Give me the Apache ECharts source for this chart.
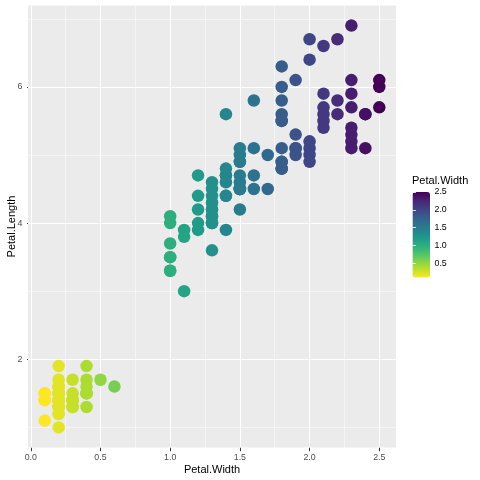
<!DOCTYPE html>
<html><head><meta charset="utf-8">
<script src="https://cdn.jsdelivr.net/npm/echarts@6/dist/echarts.min.js"></script>
<style>html,body{margin:0;padding:0;background:#fff}#c{width:480px;height:480px}</style>
</head><body><div id="c"></div>
<script>
const petalWidth = [0.2,0.2,0.2,0.2,0.2,0.4,0.3,0.2,0.2,0.1,0.2,0.2,0.1,0.1,0.2,0.4,0.4,0.3,0.3,0.3,0.2,0.4,0.2,0.5,0.2,0.2,0.4,0.2,0.2,0.2,0.2,0.4,0.1,0.2,0.2,0.2,0.2,0.1,0.2,0.2,0.3,0.3,0.2,0.6,0.4,0.3,0.2,0.2,0.2,0.2,
1.4,1.5,1.5,1.3,1.5,1.3,1.6,1.0,1.3,1.4,1.0,1.5,1.0,1.4,1.3,1.4,1.5,1.0,1.5,1.1,1.8,1.3,1.5,1.2,1.3,1.4,1.4,1.7,1.5,1.0,1.1,1.0,1.2,1.6,1.5,1.6,1.5,1.3,1.3,1.3,1.2,1.4,1.2,1.0,1.3,1.2,1.3,1.3,1.1,1.3,
2.5,1.9,2.1,1.8,2.2,2.1,1.7,1.8,1.8,2.5,2.0,1.9,2.1,2.0,2.4,2.3,1.8,2.2,2.3,1.5,2.3,2.0,2.0,1.8,2.1,1.8,1.8,1.8,2.1,1.6,1.9,2.0,2.2,1.5,1.4,2.3,2.4,1.8,1.8,2.1,2.4,2.3,1.9,2.3,2.5,2.3,1.9,2.0,2.3,1.8];
const petalLength = [1.4,1.4,1.3,1.5,1.4,1.7,1.4,1.5,1.4,1.5,1.5,1.6,1.4,1.1,1.2,1.5,1.3,1.4,1.7,1.5,1.7,1.5,1.0,1.7,1.9,1.6,1.6,1.5,1.4,1.6,1.6,1.5,1.5,1.4,1.5,1.2,1.3,1.4,1.3,1.5,1.3,1.3,1.3,1.6,1.9,1.4,1.6,1.4,1.5,1.4,
4.7,4.5,4.9,4.0,4.6,4.5,4.7,3.3,4.6,3.9,3.5,4.2,4.0,4.7,3.6,4.4,4.5,4.1,4.5,3.9,4.8,4.0,4.9,4.7,4.3,4.4,4.8,5.0,4.5,3.5,3.8,3.7,3.9,5.1,4.5,4.5,4.7,4.4,4.1,4.0,4.4,4.6,4.0,3.3,4.2,4.2,4.2,4.3,3.0,4.1,
6.0,5.1,5.9,5.6,5.8,6.6,4.5,6.3,5.8,6.1,5.1,5.3,5.5,5.0,5.1,5.3,5.5,6.7,6.9,5.0,5.7,4.9,6.7,4.9,5.7,6.0,4.8,4.9,5.6,5.8,6.1,6.4,5.6,5.1,5.6,6.1,5.6,5.5,4.8,5.4,5.6,5.1,5.1,5.9,5.7,5.2,5.0,5.2,5.4,5.1];
const xTicks = [0, 0.5, 1.0, 1.5, 2.0, 2.5];
const xMinor = [0.25, 0.75, 1.25, 1.75, 2.25];
const yTicks = [2, 4, 6];
const yMinor = [1, 3, 5, 7];
const legendTicks = [0.5, 1.0, 1.5, 2.0, 2.5];
const viridis = ['#440154','#482878','#3E4A89','#31688E','#26828E','#1F9E89','#35B779','#6DCD59','#B4DE2C','#FDE725'];

const FONT = 'Liberation Sans, Arial, sans-serif';
const pts = petalWidth.map((w, i) => [w, petalLength[i]]);
const xMin = -0.02, xMax = 2.62, yMin = 0.705, yMax = 7.195;

const chart = echarts.init(document.getElementById('c'), null, {renderer: 'canvas'});
chart.setOption({
  animation: false,
  textStyle: {fontFamily: FONT},
  title: {text: 'Petal.Width', left: 412, top: 175, padding: 0,
    textStyle: {fontSize: 11, fontWeight: 'normal', color: '#000', fontFamily: FONT}},
  grid: [
    {left: 28, right: 84, top: 5.5, bottom: 32.5, show: true, backgroundColor: '#EBEBEB', borderWidth: 0,
     containLabel: false, outerBoundsMode: 'none'},
    {left: 412.5, top: 192, width: 17.5, height: 85.5, show: false, containLabel: false, outerBoundsMode: 'none'}
  ],
  xAxis: [
    {type: 'value', gridIndex: 0, min: xMin, max: xMax,
     name: 'Petal.Width', nameLocation: 'middle', nameGap: 17, nameMoveOverlap: false,
     nameTextStyle: {fontSize: 11, color: '#000', fontFamily: FONT},
     axisLine: {show: false},
     axisTick: {show: true, length: 3.7, lineStyle: {color: '#333333', width: 1}, customValues: xTicks},
     axisLabel: {customValues: xTicks, fontSize: 8.8, color: '#4D4D4D', margin: 5.5, fontFamily: FONT,
       formatter: v => v.toFixed(1)},
     splitLine: {show: false}},
    {type: 'value', gridIndex: 1, min: 0, max: 1, show: false}
  ],
  yAxis: [
    {type: 'value', gridIndex: 0, min: yMin, max: yMax,
     name: 'Petal.Length', nameLocation: 'middle', nameGap: 10.5, nameRotate: 90, nameMoveOverlap: false,
     nameTextStyle: {fontSize: 11, color: '#000', fontFamily: FONT},
     axisLine: {show: false},
     axisTick: {show: true, length: 3.7, lineStyle: {color: '#333333', width: 1}, customValues: yTicks},
     axisLabel: {customValues: yTicks, fontSize: 8.8, color: '#4D4D4D', margin: 5.5, fontFamily: FONT,
       formatter: v => String(v)},
     splitLine: {show: false}},
    {type: 'value', gridIndex: 1, min: 0.1, max: 2.5, position: 'right', z: 10,
     axisLine: {show: false},
     axisTick: {show: true, inside: true, length: 3.5, lineStyle: {color: '#FFFFFF', width: 0.8}, customValues: legendTicks},
     axisLabel: {customValues: legendTicks, fontSize: 8.8, color: '#000', margin: 4.5, fontFamily: FONT,
       formatter: v => v.toFixed(1)},
     splitLine: {show: false}},
    {type: 'value', gridIndex: 1, min: 0.1, max: 2.5, position: 'left', z: 10,
     axisLine: {show: false},
     axisTick: {show: true, inside: true, length: 3.5, lineStyle: {color: '#FFFFFF', width: 0.8}, customValues: legendTicks},
     axisLabel: {show: false},
     splitLine: {show: false}}
  ],
  visualMap: {
    type: 'continuous', min: 0.1, max: 2.5, dimension: 0, seriesIndex: 0,
    left: 412.5, top: 192, padding: 0, itemWidth: 17.5, itemHeight: 85.5,
    text: null, calculable: false, showLabel: false, hoverLink: false,
    inRange: {color: viridis.slice().reverse()}
  },
  series: [
    {type: 'scatter', xAxisIndex: 0, yAxisIndex: 0, data: pts, symbolSize: 12.5, z: 3,
     itemStyle: {opacity: 1}, silent: true},
    {type: 'scatter', xAxisIndex: 0, yAxisIndex: 0, data: [], z: 1, silent: true,
     markLine: {z: 1, silent: true, symbol: 'none', label: {show: false}, animation: false,
       lineStyle: {color: '#FFFFFF', width: 0.5, type: 'solid'},
       data: xMinor.map(v => ({xAxis: v})).concat(yMinor.map(v => ({yAxis: v})))}},
    {type: 'scatter', xAxisIndex: 0, yAxisIndex: 0, data: [], z: 2, silent: true,
     markLine: {z: 2, silent: true, symbol: 'none', label: {show: false}, animation: false,
       lineStyle: {color: '#FFFFFF', width: 1.05, type: 'solid'},
       data: xTicks.map(v => ({xAxis: v})).concat(yTicks.map(v => ({yAxis: v})))}}
  ]
});
</script></body></html>
